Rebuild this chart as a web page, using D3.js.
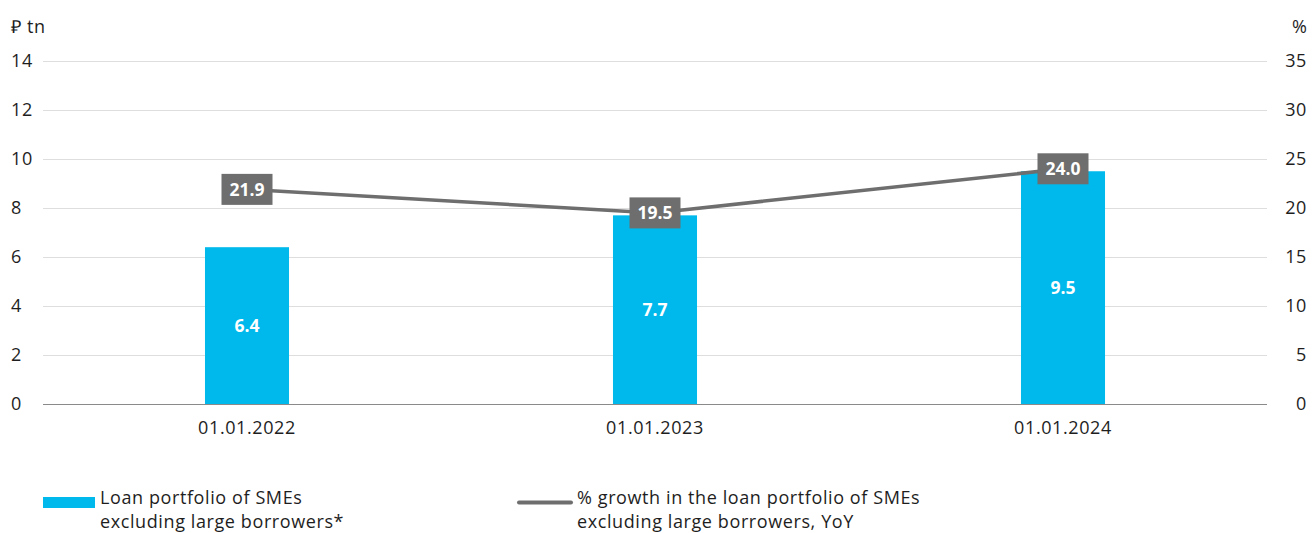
<!DOCTYPE html>
<html>
<head>
<meta charset="utf-8">
<script src="https://cdn.jsdelivr.net/npm/d3@7"></script>
<style>
  html, body { margin: 0; padding: 0; background: #fff; }
  svg { display: block; font-family: "Open Sans", "Lato", sans-serif; }
</style>
</head>
<body>
<svg id="chart" width="1312" height="533"></svg>
<script>
// Loan portfolio of SMEs (₽ tn) and its YoY growth (%)
const categories = ["01.01.2022", "01.01.2023", "01.01.2024"];
const portfolio = [6.4, 7.7, 9.5];
const growth = [21.9, 19.5, 24.0];
const leftTicks = [0, 2, 4, 6, 8, 10, 12, 14];
const rightTicks = [0, 5, 10, 15, 20, 25, 30, 35];
const legendBar = ["Loan portfolio of SMEs", "excluding large borrowers*"];
const legendLine = ["% growth in the loan portfolio of SMEs", "excluding large borrowers, YoY"];

const svg = d3.select("#chart");
const plot = { left: 43, right: 1267, top: 61, bottom: 404 };

const x = d3.scaleBand().domain(categories).range([plot.left, plot.right]).paddingInner(0.794).paddingOuter(0.397);
const yL = d3.scaleLinear().domain([0, 14]).range([plot.bottom, plot.top]);
const yR = d3.scaleLinear().domain([0, 35]).range([plot.bottom, plot.top]);

const barColor = "#00b9ec";
const lineColor = "#6d6e6d";
const textColor = "#1e1e1e";
const fs = 18;
const ls = "0.6px";

// grid lines
svg.append("g").selectAll("line").data(leftTicks).join("line")
  .attr("x1", plot.left).attr("x2", plot.right)
  .attr("y1", d => yL(d)).attr("y2", d => yL(d))
  .attr("stroke", d => d === 0 ? "#8a8a8a" : "#dedede")
  .attr("stroke-width", 1)
  .attr("shape-rendering", "crispEdges");

// left axis labels
svg.append("g").selectAll("text").data(leftTicks).join("text")
  .attr("x", 11).attr("y", d => yL(d)).attr("dy", "0.35em")
  .attr("font-size", fs).attr("letter-spacing", ls).attr("fill", textColor)
  .text(d => d);

// right axis labels
svg.append("g").selectAll("text").data(rightTicks).join("text")
  .attr("x", 1307).attr("y", d => yR(d)).attr("dy", "0.35em")
  .attr("text-anchor", "end")
  .attr("font-size", fs).attr("letter-spacing", ls).attr("fill", textColor)
  .text(d => d);

// unit labels
svg.append("text").attr("x", 11).attr("y", 33).attr("font-size", fs).attr("letter-spacing", ls).attr("fill", textColor).text("₽ tn");
svg.append("text").attr("x", 1307).attr("y", 33).attr("text-anchor", "end").attr("font-size", fs).attr("fill", textColor).text("%");

// x axis labels
svg.append("g").selectAll("text").data(categories).join("text")
  .attr("x", d => x(d) + x.bandwidth() / 2).attr("y", 434)
  .attr("text-anchor", "middle")
  .attr("font-size", fs).attr("letter-spacing", ls).attr("fill", textColor)
  .text(d => d);

// bars
svg.append("g").selectAll("rect").data(portfolio).join("rect")
  .attr("x", (d, i) => x(categories[i]))
  .attr("width", x.bandwidth())
  .attr("y", d => yL(d))
  .attr("height", d => yL(0) - yL(d))
  .attr("fill", barColor);

// bar value labels
svg.append("g").selectAll("text").data(portfolio).join("text")
  .attr("x", (d, i) => x(categories[i]) + x.bandwidth() / 2)
  .attr("y", d => (yL(d) + yL(0)) / 2)
  .attr("dy", "0.35em")
  .attr("text-anchor", "middle")
  .attr("font-size", 17.5).attr("font-weight", 700).attr("fill", "#fff")
  .text(d => d.toFixed(1));

// growth line
const cx = i => x(categories[i]) + x.bandwidth() / 2;
const line = d3.line().x((d, i) => cx(i)).y(d => yR(d));
svg.append("path").datum(growth)
  .attr("d", line)
  .attr("fill", "none")
  .attr("stroke", lineColor)
  .attr("stroke-width", 3.5);

// growth value boxes
const boxW = 51, boxH = 31;
const gBox = svg.append("g").selectAll("g").data(growth).join("g")
  .attr("transform", (d, i) => `translate(${cx(i)},${yR(d)})`);
gBox.append("rect")
  .attr("x", -boxW / 2).attr("y", -boxH / 2)
  .attr("width", boxW).attr("height", boxH)
  .attr("fill", lineColor);
gBox.append("text")
  .attr("text-anchor", "middle").attr("dy", "0.35em")
  .attr("font-size", 17.5).attr("font-weight", 700).attr("fill", "#fff")
  .text(d => d.toFixed(1));

// legend
const lg = svg.append("g");
lg.append("rect").attr("x", 43).attr("y", 497).attr("width", 52).attr("height", 11).attr("fill", barColor);
lg.append("g").selectAll("text").data(legendBar).join("text")
  .attr("font-size", fs).attr("letter-spacing", ls).attr("fill", textColor)
  .attr("x", 100).attr("y", (d, i) => 503.5 + i * 24).text(d => d);

lg.append("line").attr("x1", 519).attr("x2", 571).attr("y1", 502.5).attr("y2", 502.5)
  .attr("stroke", lineColor).attr("stroke-width", 4).attr("stroke-linecap", "round");
lg.append("g").selectAll("text").data(legendLine).join("text")
  .attr("font-size", fs).attr("letter-spacing", ls).attr("fill", textColor)
  .attr("x", 577).attr("y", (d, i) => 503.5 + i * 24).text(d => d);
</script>
</body>
</html>
